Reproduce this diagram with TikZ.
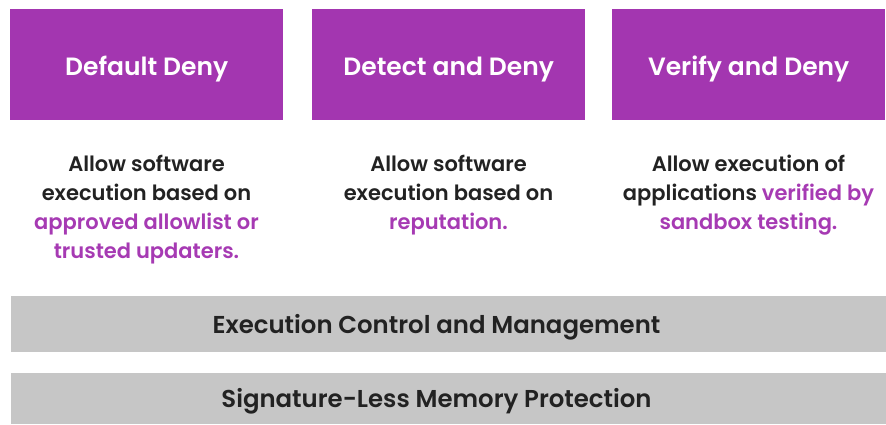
\documentclass[tikz,border=0pt]{standalone}
\usepackage{fontspec}
\setmainfont{Poppins}[BoldFont={Poppins SemiBold}]
\definecolor{purp}{HTML}{A336B0}
\definecolor{ptext}{HTML}{A63AB3}
\definecolor{barg}{HTML}{C6C6C6}
\definecolor{dark}{HTML}{222222}
\begin{document}
\begin{tikzpicture}[x=1pt,y=-1pt,
  topbox/.style={fill=purp, text=white, font=\bfseries\fontsize{25}{30}\selectfont,
    minimum width=273pt, minimum height=111pt, inner sep=0pt, anchor=north west,
    text height=21.6pt, text depth=0pt},
  desc/.style={text=dark, font=\bfseries\fontsize{21}{28.7}\selectfont, align=center, inner sep=0pt, anchor=base},
  bar/.style={fill=barg, minimum width=875pt, inner sep=0pt, anchor=north west},
  bartext/.style={text=dark, font=\bfseries\fontsize{24.4}{28}\selectfont, inner sep=0pt, anchor=base}]
\useasboundingbox (0,0) rectangle (886,424);
\node[topbox] (b1) at (10,9) {Default Deny};
\node[topbox] (b2) at (312,9) {Detect and Deny};
\node[topbox] (b3) at (612,9) {Verify and Deny};
\node[desc] (d1) at (146.5,258) {Allow software\\execution based on\\\textcolor{ptext}{approved allowlist or}\\\textcolor{ptext}{trusted updaters.}};
\node[desc] (d2) at (448.5,229) {Allow software\\execution based on\\\textcolor{ptext}{reputation.}};
\node[desc] (d3) at (748.5,229) {Allow execution of\\applications \textcolor{ptext}{verified by}\\\textcolor{ptext}{sandbox testing.}};
\node[bar, minimum height=56pt] (e1) at (11,296) {};
\node[bar, minimum height=51pt] (e2) at (11,373) {};
\node[bartext] (t1) at (436.5,333.3) {Execution Control and Management};
\node[bartext] (t2) at (436.5,407.8) {Signature-Less Memory Protection};
\end{tikzpicture}
\end{document}
